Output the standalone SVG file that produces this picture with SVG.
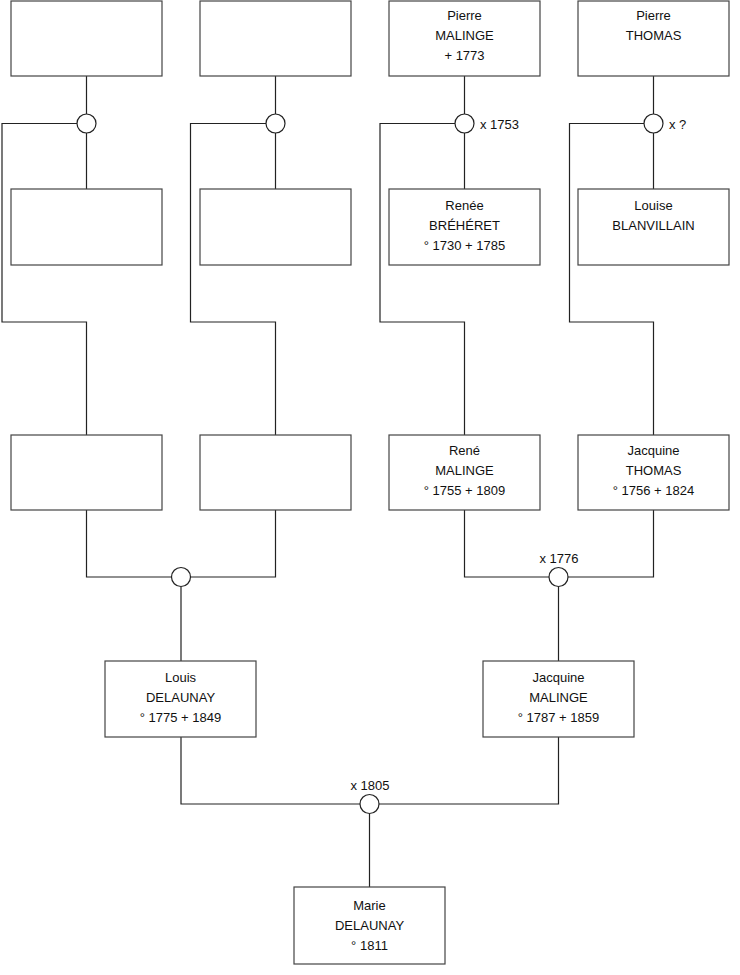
<svg xmlns="http://www.w3.org/2000/svg" width="740" height="975" viewBox="0 0 740 975">
<style>
.box{fill:#fff;stroke:#444;stroke-width:1.2}
.ln{fill:none;stroke:#222;stroke-width:1.2}
.m{fill:#fff;stroke:#222;stroke-width:1.2}
text{font-family:"Liberation Sans",Arial,sans-serif;font-size:13px;fill:#111;text-anchor:middle;dominant-baseline:central}
.lab{text-anchor:start}
</style>
<rect width="740" height="975" fill="#fff"/>
<g id="connectors">
<path class="ln" d="M86.5,76V114M86.5,133V189M77,123.5H2V322H86.5V435"/>
<path class="ln" d="M275.5,76V114M275.5,133V189M266,123.5H190.5V322H275.5V435"/>
<path class="ln" d="M464.5,76V114M464.5,133V189M455,123.5H380V322H464.5V435"/>
<path class="ln" d="M653.5,76V114M653.5,133V189M644,123.5H569.5V322H653.5V435"/>
<path class="ln" d="M86.5,510V577H171.5M190.5,577H275.5V510M181,586.5V661"/>
<path class="ln" d="M464.5,510V577H549M568,577H653.5V510M558.5,586.5V661"/>
<path class="ln" d="M181,737V804H360M379,804H558.5V737M369.5,813.5V887"/>
</g>
<g id="marriages">
<circle class="m" cx="86.5" cy="123.5" r="9.5"/>
<circle class="m" cx="275.5" cy="123.5" r="9.5"/>
<circle class="m" cx="464.5" cy="123.5" r="9.5"/>
<circle class="m" cx="653.5" cy="123.5" r="9.5"/>
<circle class="m" cx="181" cy="577" r="9.5"/>
<circle class="m" cx="558.5" cy="577" r="9.5"/>
<circle class="m" cx="369.5" cy="804" r="9.5"/>
<text class="lab" x="480" y="124">x 1753</text>
<text class="lab" x="669" y="124">x ?</text>
<text x="559" y="558">x 1776</text>
<text x="370" y="785">x 1805</text>
</g>
<g id="n1"><rect class="box" x="11" y="1" width="151" height="75"/></g>
<g id="n2"><rect class="box" x="200" y="1" width="151" height="75"/></g>
<g id="n3"><rect class="box" x="389" y="1" width="151" height="75"/><text x="464.5" y="15">Pierre</text><text x="464.5" y="35">MALINGE</text><text x="464.5" y="55">+ 1773</text></g>
<g id="n4"><rect class="box" x="578" y="1" width="151" height="75"/><text x="653.5" y="15">Pierre</text><text x="653.5" y="35">THOMAS</text></g>
<g id="n5"><rect class="box" x="11" y="189" width="151" height="76"/></g>
<g id="n6"><rect class="box" x="200" y="189" width="151" height="76"/></g>
<g id="n7"><rect class="box" x="389" y="189" width="151" height="76"/><text x="464.5" y="205">Renée</text><text x="464.5" y="225">BRÉHÉRET</text><text x="464.5" y="245">° 1730 + 1785</text></g>
<g id="n8"><rect class="box" x="578" y="189" width="151" height="76"/><text x="653.5" y="205">Louise</text><text x="653.5" y="225">BLANVILLAIN</text></g>
<g id="n9"><rect class="box" x="11" y="435" width="151" height="75"/></g>
<g id="n10"><rect class="box" x="200" y="435" width="151" height="75"/></g>
<g id="n11"><rect class="box" x="389" y="435" width="151" height="75"/><text x="464.5" y="450">René</text><text x="464.5" y="470">MALINGE</text><text x="464.5" y="490">° 1755 + 1809</text></g>
<g id="n12"><rect class="box" x="578" y="435" width="151" height="75"/><text x="653.5" y="450">Jacquine</text><text x="653.5" y="470">THOMAS</text><text x="653.5" y="490">° 1756 + 1824</text></g>
<g id="n13"><rect class="box" x="105" y="661" width="151" height="76"/><text x="180.5" y="677">Louis</text><text x="180.5" y="697">DELAUNAY</text><text x="180.5" y="717">° 1775 + 1849</text></g>
<g id="n14"><rect class="box" x="483" y="661" width="151" height="76"/><text x="558.5" y="677">Jacquine</text><text x="558.5" y="697">MALINGE</text><text x="558.5" y="717">° 1787 + 1859</text></g>
<g id="n15"><rect class="box" x="294" y="887" width="151" height="77"/><text x="369.5" y="905">Marie</text><text x="369.5" y="925">DELAUNAY</text><text x="369.5" y="945">° 1811</text></g>
</svg>
